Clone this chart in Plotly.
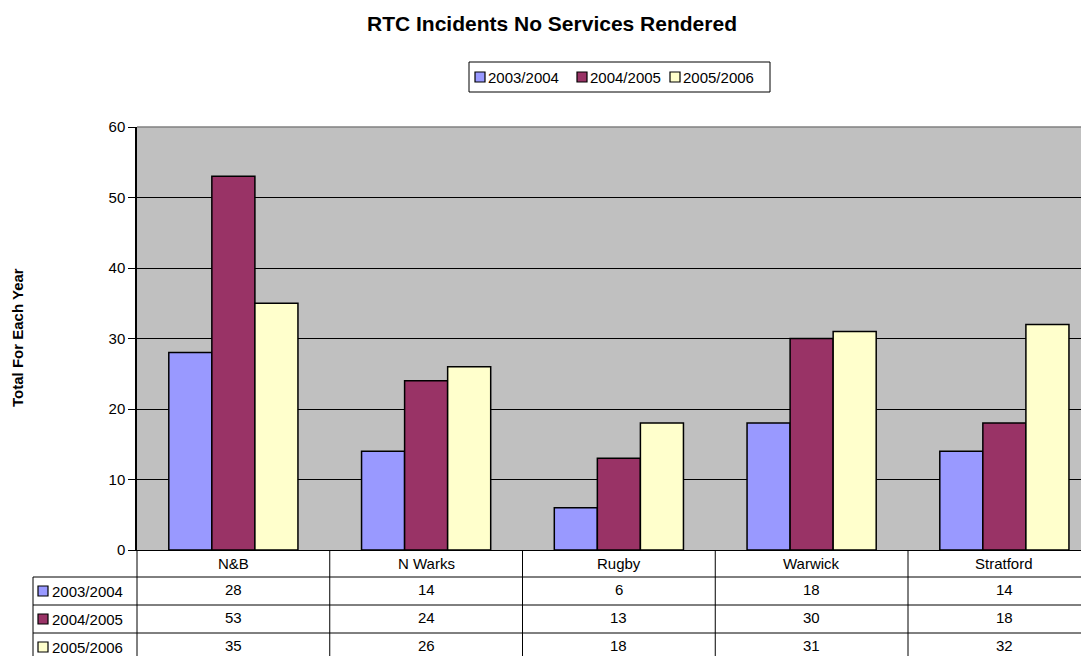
import plotly.graph_objects as go

categories = ["N&B", "N Warks", "Rugby", "Warwick", "Stratford"]
years = ["2003/2004", "2004/2005", "2005/2006"]
values_0304 = [28, 14, 6, 18, 14]
values_0405 = [53, 24, 13, 30, 18]
values_0506 = [35, 26, 18, 31, 32]
colors = ["#9999FF", "#993366", "#FFFFCC"]

series = [values_0304, values_0405, values_0506]

# page / plot area in pixels (Excel style layout)
W, H = 1089, 656
OFF = 8                      # default body margin of the html page
L, T, B = 137, 127, 550      # plot area, page pixels
R = W
FW, FH = W - OFF, H - OFF    # figure size
FONT = "Arial, 'Liberation Sans', sans-serif"
FS = 15

cat_px = 192.75                    # width of one category slot
x_lo = -0.5
x_hi = x_lo + (R - L) / cat_px     # last category runs off the right edge

# Excel-like legend box at the top (page pixels)
leg_box = (469, 62, 770, 92)
leg_sq_x = [475, 577, 670]


def px_x(p):
    return (p - L) / (R - L)


def px_y(p):
    return (B - p) / (B - T)


def sq(xl, yc, col):
    # small legend swatch, 10 px square
    return dict(type="rect", xref="paper", yref="paper",
                x0=px_x(xl), x1=px_x(xl + 10), y0=px_y(yc + 5), y1=px_y(yc - 5),
                fillcolor=col, line=dict(color="black", width=1.2))


fig = go.Figure()
for name, vals, col in zip(years, series, colors):
    fig.add_trace(go.Bar(
        name=name, x=categories, y=vals, showlegend=False,
        marker=dict(color=col, line=dict(color="black", width=1.5)),
    ))

shapes = [dict(type="line", xref="paper", yref="paper", x0=0, x1=1, y0=1, y1=1,
               line=dict(color="#808080", width=1.5))]
annotations = []

# legend
shapes.append(dict(type="rect", xref="paper", yref="paper",
                   x0=px_x(leg_box[0]), x1=px_x(leg_box[2]),
                   y0=px_y(leg_box[3]), y1=px_y(leg_box[1]),
                   fillcolor="white", line=dict(color="black", width=1)))
leg_yc = (leg_box[1] + leg_box[3]) / 2
for xs, name, col in zip(leg_sq_x, years, colors):
    shapes.append(sq(xs, leg_yc, col))
    annotations.append(dict(x=px_x(xs + 11), xref="paper", y=px_y(leg_yc), yref="paper",
                            xanchor="left", yanchor="middle",
                            text=name, showarrow=False))

# data table under the chart
row_lines = [577, 605, 633]
row_mid = [591, 619, 647]
for y in row_lines:
    shapes.append(dict(type="line", xref="paper", yref="paper",
                       x0=px_x(33), x1=1, y0=px_y(y), y1=px_y(y),
                       line=dict(color="black", width=1)))
shapes.append(dict(type="line", xref="paper", yref="paper",
                   x0=px_x(33), x1=px_x(33), y0=px_y(577), y1=px_y(H + 5),
                   line=dict(color="black", width=1)))
for i in range(len(categories) + 1):
    xp = (i - 0.5 - x_lo) / (x_hi - x_lo)
    if xp > 1:
        continue
    shapes.append(dict(type="line", xref="paper", yref="paper",
                       x0=xp, x1=xp, y0=0, y1=px_y(H + 5),
                       line=dict(color="black", width=1)))

for c in categories:
    annotations.append(dict(x=c, xref="x", y=px_y(563), yref="paper",
                            xanchor="center", yanchor="middle",
                            text=c, showarrow=False))
for r, (name, vals, col) in enumerate(zip(years, series, colors)):
    shapes.append(sq(38, row_mid[r], col))
    annotations.append(dict(x=px_x(50), xref="paper", y=px_y(row_mid[r]), yref="paper",
                            xanchor="left", yanchor="middle",
                            text=name, showarrow=False))
    for c, v in zip(categories, vals):
        annotations.append(dict(x=c, xref="x", y=px_y(row_mid[r] - 2), yref="paper",
                                xanchor="center", yanchor="middle",
                                text=str(v), showarrow=False))

# y axis title
annotations.append(dict(x=px_x(17), xref="paper", y=px_y(338), yref="paper",
                        xanchor="center", yanchor="middle",
                        text="<b>Total For Each Year</b>", textangle=-90,
                        showarrow=False))

fig.update_layout(
    width=FW, height=FH,
    margin=dict(l=L - OFF, r=0, t=T - OFF, b=FH - (B - OFF), pad=0),
    font=dict(family=FONT, size=FS, color="black"),
    title=dict(text="<b>RTC Incidents No Services Rendered</b>",
               x=(552 - OFF) / FW, xanchor="center", y=1 - (24 - OFF) / FH,
               yanchor="middle", yref="container",
               font=dict(size=21, color="black")),
    barmode="group", bargap=0.33, bargroupgap=0,
    plot_bgcolor="#C0C0C0", paper_bgcolor="white",
    showlegend=False,
    xaxis=dict(range=[x_lo, x_hi], showticklabels=False, ticks="",
               showline=True, linecolor="black", linewidth=1, showgrid=False),
    yaxis=dict(range=[0, 60], dtick=10, ticks="outside", ticklen=7,
               tickcolor="black", showline=True, linecolor="black",
               linewidth=1.5, showgrid=True, gridcolor="black", gridwidth=1,
               zeroline=False, tickfont=dict(size=FS)),
    shapes=shapes,
    annotations=annotations,
)

fig.write_html("out.html")
